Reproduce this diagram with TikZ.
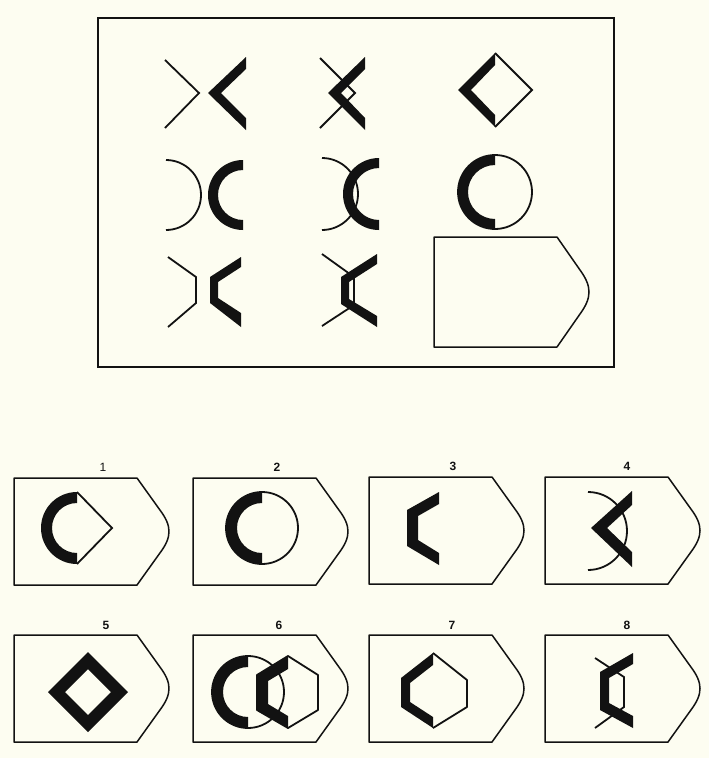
\documentclass[tikz,border=0pt]{standalone}
\usepackage{fontspec}
\setmainfont{Liberation Sans}
\definecolor{paper}{RGB}{253,253,241}
\definecolor{ink}{RGB}{18,18,18}
\tikzset{
  thinline/.style={draw=ink, line width=1.8pt},
  thickshape/.style={fill=ink},
  framestyle/.style={draw=ink, line width=1.5pt, line join=round},
  numlabel/.style={font=\fontsize{12}{14}\selectfont\bfseries, text=ink, inner sep=0pt},
}
\newcommand\ansframe[3]{\begin{scope}[shift={(#1,#2)}]
  \draw[framestyle] (0,0) -- (123,0) -- (146,{0.3*#3}) .. controls (158,{0.45*#3}) and (158,{0.55*#3}) .. (146,{0.7*#3}) -- (123,#3) -- (0,#3) -- cycle;
\end{scope}}
\begin{document}
\begin{tikzpicture}[x=1pt,y=-1pt]
\useasboundingbox (0,0) rectangle (709,758);
\fill[paper] (0,0) rectangle (709,758);
% ---------- matrix frame ----------
\draw[framestyle, line join=miter] (98,18) rectangle (614,367);
% row 1
\draw[thinline] (165,60) -- (199,93) -- (165,128);
\fill[thickshape] (246,57) -- (208,93) -- (246,130) -- (246,118) -- (221,93) -- (246,69) -- cycle;
\draw[thinline] (320,58) -- (355,93) -- (320,128);
\fill[thickshape] (365,57) -- (328,93) -- (365,130) -- (365,118) -- (341,93) -- (365,69) -- cycle;
\draw[thinline] (495,53) -- (532,90) -- (495,127);
\fill[thickshape] (495,53) -- (458,90) -- (495,127) -- (495,115) -- (471,90) -- (495,65) -- cycle;
% row 2
\draw[thinline] (166,160) arc[start angle=-90, end angle=90, radius=35];
\fill[thickshape] (243,160) arc[start angle=-90, end angle=-270, radius=35] -- (243,220) arc[start angle=90, end angle=270, radius=25] -- cycle;
\draw[thinline] (322,158) arc[start angle=-90, end angle=90, radius=36];
\fill[thickshape] (379,158) arc[start angle=-90, end angle=-270, radius=36] -- (379,220) arc[start angle=90, end angle=270, radius=26] -- cycle;
\draw[thinline] (495,192) circle[radius=37];
\fill[thickshape] (495,155) arc[start angle=-90, end angle=-270, radius=37] -- (495,219) arc[start angle=90, end angle=270, radius=27] -- cycle;
% row 3
\draw[thinline] (168,257) -- (196,277) -- (196,303) -- (168,327);
\fill[thickshape] (241,257) -- (210,277) -- (210,303) -- (241,327) -- (241,313) -- (218,298) -- (218,282) -- (241,267) -- cycle;
\draw[thinline] (322,254) -- (354,277) -- (354,305) -- (322,326);
\fill[thickshape] (377,254) -- (341,277) -- (341,304) -- (377,327) -- (377,316) -- (349,299) -- (349,282) -- (377,264) -- cycle;
\ansframe{434}{237}{110}
% ---------- answers ----------
\ansframe{14}{478}{107}
\ansframe{193}{478}{107}
\ansframe{369}{477}{107}
\ansframe{545}{477}{107}
\ansframe{14}{635}{107}
\ansframe{193}{635}{107}
\ansframe{369}{635}{107}
\ansframe{545}{635}{107}
\node[numlabel, font=\fontsize{12}{14}\selectfont] (l1) at (103,467) {1};
\node[numlabel] (l2) at (277,467) {2};
\node[numlabel] (l3) at (453,466) {3};
\node[numlabel] (l4) at (627,466) {4};
\node[numlabel] (l5) at (106,625) {5};
\node[numlabel] (l6) at (279,625) {6};
\node[numlabel] (l7) at (452,625) {7};
\node[numlabel] (l8) at (627,625) {8};
% answer 1
\draw[thinline] (77,492) -- (112,528) -- (77,564);
\fill[thickshape] (77,492) arc[start angle=-90, end angle=-270, radius=36] -- (77,553) arc[start angle=90, end angle=270, radius=25] -- cycle;
% answer 2
\draw[thinline] (262,528) circle[radius=36];
\fill[thickshape] (262,492) arc[start angle=-90, end angle=-270, radius=36] -- (262,553) arc[start angle=90, end angle=270, radius=25] -- cycle;
% answer 3
\fill[thickshape] (439,492) -- (407,510) -- (407,546) -- (439,565) -- (439,553) -- (418,540) -- (418,516) -- (439,504) -- cycle;
% answer 4
\draw[thinline] (588,492) arc[start angle=-90, end angle=90, radius=39];
\fill[thickshape] (632,491) -- (591,528) -- (632,567) -- (632,552) -- (607,528) -- (632,505) -- cycle;
% answer 5
\fill[thickshape, even odd rule] (48,692) -- (88,652) -- (128,692) -- (88,732) -- cycle (65,692) -- (88,669) -- (111,692) -- (88,715) -- cycle;
% answer 6
\draw[thinline] (248,692) circle[radius=36];
\fill[thickshape] (248,656) arc[start angle=-90, end angle=-270, radius=36] -- (248,717) arc[start angle=90, end angle=270, radius=25] -- cycle;
\draw[thinline, line join=round] (288,656) -- (318,675) -- (318,710) -- (288,728) -- (257,710) -- (257,675) -- cycle;
\fill[thickshape] (288,656) -- (257,675) -- (257,710) -- (288,728) -- (288,716) -- (268,704) -- (268,681) -- (288,669) -- cycle;
% answer 7
\draw[thinline, line join=round] (433,653) -- (467,680) -- (467,707) -- (433,728);
\fill[thickshape] (433,653) -- (401,678) -- (401,707) -- (433,728) -- (433,717) -- (410,702) -- (410,683) -- (433,665) -- cycle;
% answer 8
\draw[thinline] (595,658) -- (624,677) -- (624,707) -- (595,728);
\fill[thickshape] (633,653) -- (600,672) -- (600,710) -- (633,728) -- (633,716) -- (609,703) -- (609,678) -- (633,664) -- cycle;
\end{tikzpicture}
\end{document}
